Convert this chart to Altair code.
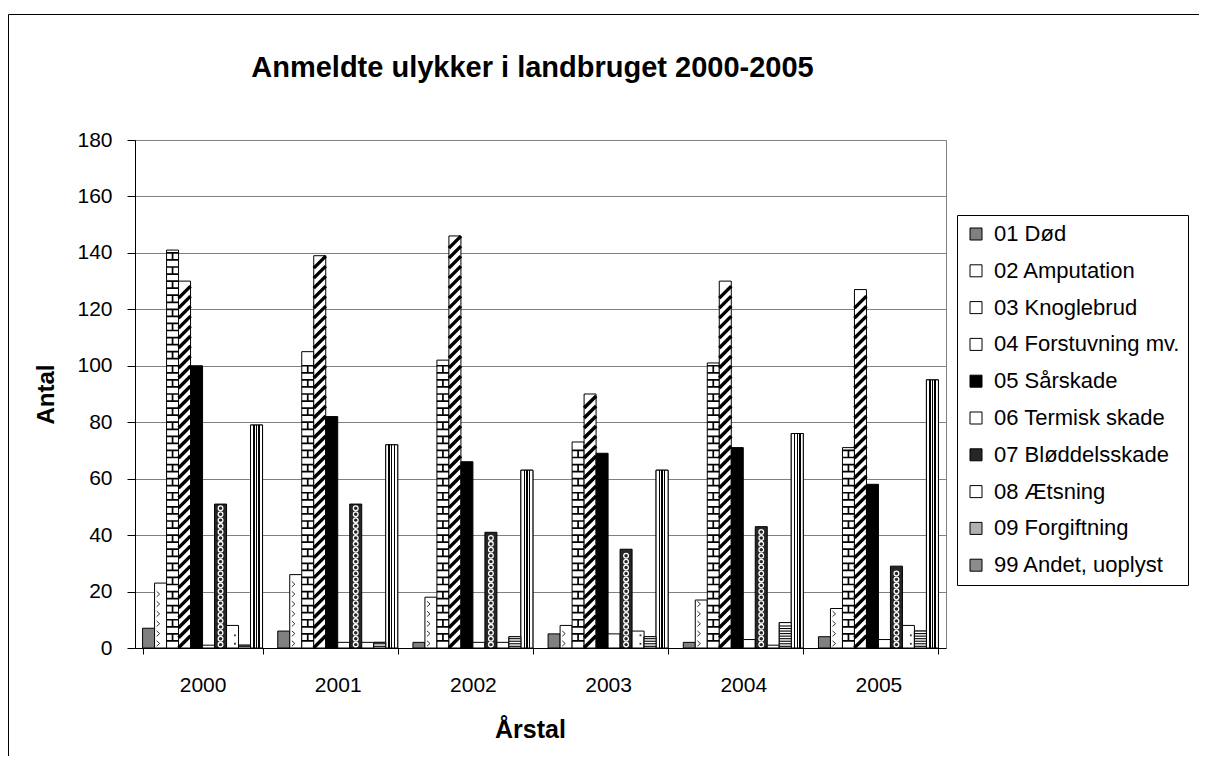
import altair as alt
import pandas as pd

# ---------------- data ----------------
years = ["2000", "2001", "2002", "2003", "2004", "2005"]
series = [
    "01 Død",
    "02 Amputation",
    "03 Knoglebrud",
    "04 Forstuvning mv.",
    "05 Sårskade",
    "06 Termisk skade",
    "07 Bløddelsskade",
    "08 Ætsning",
    "09 Forgiftning",
    "99 Andet, uoplyst",
]
doed = [7, 6, 2, 5, 2, 4]
amputation = [23, 26, 18, 8, 17, 14]
knoglebrud = [141, 105, 102, 73, 101, 71]
forstuvning = [130, 139, 146, 90, 130, 127]
saarskade = [100, 82, 66, 69, 71, 58]
termisk = [1, 2, 2, 5, 3, 3]
bloeddel = [51, 51, 41, 35, 43, 29]
aetsning = [8, 2, 2, 6, 1, 8]
forgiftning = [1, 2, 4, 4, 9, 6]
andet = [79, 72, 63, 63, 76, 95]
y_ticks = [0, 20, 40, 60, 80, 100, 120, 140, 160, 180]

all_values = [doed, amputation, knoglebrud, forstuvning, saarskade,
              termisk, bloeddel, aetsning, forgiftning, andet]
fills = ["#808080", "#ffffff", "#ffffff", "#ffffff", "#000000",
         "#ffffff", "#262626", "#ffffff", "#b0b0b0", "#8c8c8c"]

rows = [{"year": y, "series": s, "value": v}
        for s, vals in zip(series, all_values)
        for y, v in zip(years, vals)]
df = pd.DataFrame(rows)

FONT = "Liberation Sans"

x_scale = alt.Scale(domain=years, paddingInner=0.1125, paddingOuter=0.056)
xo_scale = alt.Scale(domain=series, paddingInner=0, paddingOuter=0)
y_scale = alt.Scale(domain=[0, 180], nice=False, zero=True)

x_axis = alt.Axis(
    title="Årstal", labelAngle=0, grid=False, tickBand="extent",
    tickSize=6, tickColor="black", domainColor="black",
    labelFontSize=21, labelFont=FONT, labelColor="black", labelPadding=20,
    titleFontSize=25, titleFont=FONT, titleFontWeight="bold", titleColor="black",
    titleX=395, titleY=81, titleBaseline="middle", titleAlign="center",
)
y_axis = alt.Axis(
    title="Antal", values=y_ticks, grid=True, gridColor="#808080", gridWidth=1,
    tickSize=8, tickColor="black", domainColor="black",
    labelFontSize=21, labelFont=FONT, labelColor="black", labelPadding=15,
    titleFontSize=24, titleFont=FONT, titleFontWeight="bold", titleColor="black",
    titleX=-89, titleY=254, titleAngle=270, titleBaseline="middle", titleAlign="center",
)


def X():
    return alt.X("year:N", scale=x_scale, axis=x_axis)


def XO():
    return alt.XOffset("series:N", scale=xo_scale)


def Y(field):
    return alt.Y(field, type="quantitative", scale=y_scale, axis=y_axis)


# outer chart-area frame (only its left and top edges fall inside the picture)
frame = alt.Chart(pd.DataFrame({"f": [0]})).mark_rect(
    fill="transparent", stroke="black", strokeWidth=1
).encode(
    x=alt.value(-126.5), x2=alt.value(3000),
    y=alt.value(-125.5), y2=alt.value(3000),
)

bars = alt.Chart(df).mark_bar(stroke="black", strokeWidth=1).encode(
    x=X(), xOffset=XO(), y=Y("value"),
    fill=alt.Fill(
        "series:N",
        scale=alt.Scale(domain=series, range=fills),
        legend=alt.Legend(
            orient="none", legendX=822, legendY=75, title=None,
            strokeColor="black", fillColor="white", padding=8,
            labelFontSize=22, labelFont=FONT, labelColor="black", labelLimit=0,
            symbolType="square", symbolSize=144, symbolStrokeColor="black",
            symbolStrokeWidth=1, rowPadding=14.8, labelOffset=7,
        ),
    ),
)

# vertical stripes for "99 Andet, uoplyst"
stripe_segments = [(0.0, 0.22, "#ffffff"), (0.22, 0.34, "#000000"),
                   (0.34, 0.44, "#ffffff"), (0.44, 0.56, "#000000"),
                   (0.56, 0.66, "#ffffff"), (0.66, 0.78, "#000000"),
                   (0.78, 1.0, "#ffffff")]
stops = []
for a, b, c in stripe_segments:
    stops.append(alt.GradientStop(offset=a, color=c))
    stops.append(alt.GradientStop(offset=b, color=c))
stripes = alt.LinearGradient(gradient="linear", stops=stops, x1=0, x2=1, y1=0, y2=0)

andet_layer = alt.Chart(df).transform_filter(
    alt.datum.series == series[9]
).mark_bar(stroke="black", strokeWidth=1).encode(
    x=X(), xOffset=XO(), y=Y("value"), fill=alt.value(stripes)
)

forgift_layer = alt.Chart(df).transform_filter(
    alt.datum.series == series[8]
).mark_bar(stroke="black", strokeWidth=1, fill="white").encode(
    x=X(), xOffset=XO(), y=Y("value")
)


def hatch(name, start, step, end_off, shape, size, width, color="black", filled=False):
    ch = alt.Chart(df).transform_filter(
        alt.datum.series == name
    ).transform_calculate(
        ys=f"sequence({start}, datum.value - {end_off}, {step})"
    ).transform_flatten(["ys"])
    if filled:
        mk = ch.mark_point(shape=shape, size=size, filled=True, fill=color,
                           strokeWidth=0, opacity=1)
    else:
        mk = ch.mark_point(shape=shape, size=size, filled=False, stroke=color,
                           strokeWidth=width, opacity=1)
    return mk.encode(x=X(), xOffset=XO(), y=Y("ys:Q"))


patterns = [
    # diagonal hatching
    hatch(series[3], 2.2, 3.54, 2.2, "M-1,1L1,-1", 144, 3.4),
    # brick
    hatch(series[2], 2.5, 5.0, 2.6, "M-1,0L1,0M0,0L0,-1.18M-1,-1.18L1,-1.18", 144, 1.7),
    # amputation chevrons
    hatch(series[1], 1.6, 3.5, 1.2, "M-0.65,-0.45L-0.15,0L-0.65,0.45", 144, 1.0, "#333333"),
    # aetsning dots
    hatch(series[7], 1.5, 3.0, 0.8, "M0.25,-0.15L0.55,-0.15L0.55,0.15L0.25,0.15Z", 144, 0, "#333333", True),
    # forgiftning horizontal lines
    hatch(series[8], 0.6, 0.9, 0.3, "M-1,0L1,0", 144, 1.1),
    # bloeddelsskade rings
    hatch(series[6], 1.2, 2.1, 0.9, "circle", 22, 1.3, "#ffffff"),
]

chart = alt.layer(frame, bars, andet_layer, forgift_layer, *patterns).properties(
    width=811,
    height=508,
    padding={"left": 127, "top": 132, "right": 253, "bottom": 108},
    autosize=alt.AutoSizeParams(type="none"),
    background="white",
    title=alt.TitleParams(
        text="Anmeldte ulykker i landbruget 2000-2005",
        fontSize=29, fontWeight="bold", font=FONT, color="black",
        anchor="middle", frame="group", baseline="alphabetic",
        offset=-92, dx=-8,
    ),
).configure(font=FONT).configure_view(stroke="#808080", strokeWidth=1)

chart.save("out.html", embed_options={"renderer": "svg", "actions": False})
